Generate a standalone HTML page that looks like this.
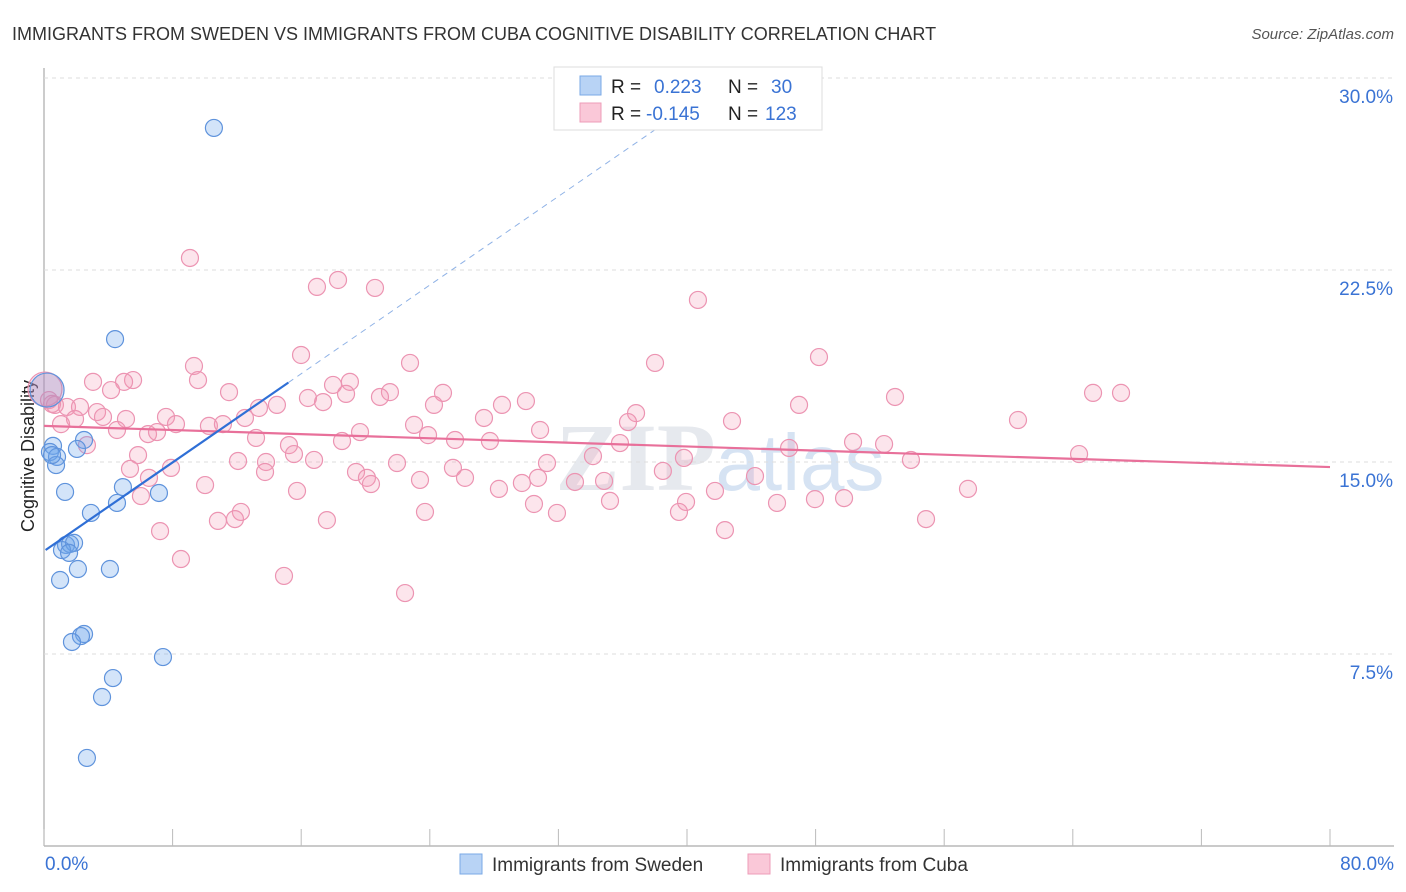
<!DOCTYPE html>
<html><head><meta charset="utf-8"><style>
body{margin:0;background:#fff;font-family:"Liberation Sans",sans-serif;}
svg{display:block}
</style></head><body>
<svg id="chart" width="1406" height="892">
<text x="12" y="40" font-size="18" fill="#333">IMMIGRANTS FROM SWEDEN VS IMMIGRANTS FROM CUBA COGNITIVE DISABILITY CORRELATION CHART</text>
<text x="1394" y="39" font-size="15" fill="#555" font-style="italic" text-anchor="end">Source: ZipAtlas.com</text>
<text x="720" y="490" font-size="96" fill="#e6e9ee" text-anchor="middle" font-weight="bold" font-family="Liberation Serif,serif">ZIP<tspan fill="#d6e3f3" font-family="Liberation Sans,sans-serif" font-weight="normal" font-size="80">atlas</tspan></text>
<text transform="translate(34,456) rotate(-90)" font-size="18" fill="#222" text-anchor="middle">Cognitive Disability</text>
<g id="grid"></g><g id="marks"></g>
<g>
<rect x="554" y="67" width="268" height="63" fill="#fff" stroke="#ddd"/>
<rect x="580" y="76" width="21" height="19" fill="#b8d3f5" stroke="#7aa8e6"/>
<rect x="580" y="103" width="21" height="19" fill="#fac8d8" stroke="#ee9cb8"/>
<text x="611" y="93" font-size="19" fill="#222">R = <tspan fill="#3a73d4" x="654">0.223</tspan><tspan x="728" fill="#222">N = </tspan><tspan x="771" fill="#3a73d4">30</tspan></text>
<text x="611" y="120" font-size="19" fill="#222">R = <tspan fill="#3a73d4" x="646">-0.145</tspan><tspan x="728" fill="#222">N = </tspan><tspan x="765" fill="#3a73d4">123</tspan></text>
</g>
<g>
<rect x="460" y="854" width="22" height="20" fill="#b8d3f5" stroke="#7aa8e6"/>
<text x="492" y="871" font-size="19" fill="#333">Immigrants from Sweden</text>
<rect x="748" y="854" width="22" height="20" fill="#fac8d8" stroke="#ee9cb8"/>
<text x="780" y="871" font-size="19" fill="#333">Immigrants from Cuba</text>
</g>
</svg>
<script>
const yTicks=[7.5,15,22.5,30];
const yTickLabels=["7.5%","15.0%","22.5%","30.0%"];
const xTickLabels=["0.0%","80.0%"];
const swedenX=[10.57,4.42,2.49,2.05,0.56,0.37,0.81,0.75,1.31,4.91,7.15,4.54,2.92,1.37,1.62,1.87,1.12,1.56,2.11,4.1,1.0,2.49,2.3,1.74,7.4,4.29,3.61,2.67,0.19,0.5];
const swedenY=[28.05,19.8,15.86,15.51,15.63,15.39,15.2,14.88,13.83,14.02,13.79,13.4,13.01,11.76,11.8,11.84,11.56,11.45,10.82,10.82,10.39,8.28,8.2,7.97,7.38,6.56,5.82,3.44,17.81,15.27];
const cubaX=[9.08,18.29,16.98,20.59,40.68,48.21,15.99,22.77,38.01,9.33,5.54,4.98,3.05,9.58,19.03,17.98,18.79,21.52,24.82,11.51,65.26,67.0,52.94,0.31,0.68,1.43,2.24,3.3,4.17,20.9,16.42,17.36,14.49,13.37,24.26,28.49,29.98,46.97,36.83,42.8,60.59,7.59,5.1,3.67,1.93,1.06,8.21,10.26,11.13,12.5,23.02,27.37,36.33,30.86,4.54,6.47,7.03,13.19,19.66,23.89,2.67,15.24,18.54,27.74,35.83,50.33,52.26,15.55,5.85,12.07,13.81,16.8,34.15,39.81,53.93,64.39,46.35,5.35,7.9,19.41,21.96,25.44,31.29,25.57,13.75,6.53,20.09,26.19,20.34,23.39,29.73,30.73,34.84,38.5,44.23,10.02,15.74,28.3,33.03,41.74,6.03,30.48,35.21,39.94,47.96,49.77,45.6,57.48,12.25,23.7,31.91,39.5,10.82,11.88,17.6,54.87,7.22,42.36,8.52,14.93,22.46,0.06,0.5];
const cubaY=[22.97,22.11,21.84,21.8,21.33,19.1,19.18,18.87,18.87,18.75,18.2,18.13,18.13,18.2,18.13,18.01,17.66,17.73,17.7,17.73,17.7,17.7,17.54,17.42,17.23,17.15,17.15,16.95,17.81,17.54,17.5,17.34,17.23,17.11,17.23,17.23,17.38,17.23,16.91,16.6,16.64,16.76,16.68,16.76,16.68,16.48,16.48,16.41,16.48,16.72,16.45,16.72,16.56,16.25,16.25,16.09,16.17,15.94,16.17,16.05,15.66,15.66,15.82,15.82,15.74,15.78,15.7,15.31,15.27,15.04,15.0,15.08,15.23,15.16,15.08,15.31,15.55,14.73,14.77,14.61,14.96,14.77,14.96,15.86,14.61,14.38,14.38,14.38,14.14,14.3,14.18,14.38,14.26,14.65,14.45,14.1,13.87,13.95,14.22,13.87,13.67,13.36,13.48,13.44,13.55,13.59,13.4,13.95,13.05,13.05,13.01,13.05,12.7,12.77,12.73,12.77,12.3,12.34,11.21,10.55,9.88,17.85,17.27];
const swedenTrend=[11.52,0.433];
const cubaTrend=[16.41,-0.0201];
const NS="http://www.w3.org/2000/svg";
const X0=44,X1=1330,Y0=846,Y30=78;
const sx=v=>X0+(X1-X0)*v/80;
const sy=v=>Y0-(Y0-Y30)*v/30;
function mk(tag,attrs,parent){const e=document.createElementNS(NS,tag);for(const k in attrs)e.setAttribute(k,attrs[k]);parent.appendChild(e);return e;}
const grid=document.getElementById('grid'),marks=document.getElementById('marks');
let ax=mk('line',{x1:X0,y1:68,x2:X0,y2:Y0,stroke:'#aaa','stroke-width':1.2},grid);


let bx=mk('line',{x1:X0,y1:Y0,x2:1394,y2:Y0,stroke:'#aaa','stroke-width':1.2},grid);


for(let i=0;i<=10;i++){const t=mk('line',{x1:sx(i*8),y1:Y0,x2:sx(i*8),y2:Y0-17,stroke:'#bbb'},grid);

}
yTicks.forEach((v,i)=>{const g=mk('line',{x1:X0,y1:sy(v),x2:1394,y2:sy(v),stroke:'#ddd','stroke-dasharray':'4,4'},grid);


const t=mk('text',{x:1393,y:sy(v)+25,'font-size':19,fill:'#3a73d4','text-anchor':'end'},grid);t.textContent=yTickLabels[i];

});
[[0,'start',45],[80,'end',1394]].forEach((a,i)=>{const t=mk('text',{x:a[2],y:870,'font-size':19,fill:'#3a73d4','text-anchor':a[1]},grid);t.textContent=xTickLabels[i];

});
cubaX.forEach((x,i)=>{const big=i===cubaX.length-2;const c=mk('circle',{cx:sx(x),cy:sy(cubaY[i]),r:big?17:8.5,fill:'rgba(244,150,180,0.25)',stroke:'#ec94b2','stroke-width':1.2},marks);

});
swedenX.forEach((x,i)=>{const big=i===28;const c=mk('circle',{cx:sx(x),cy:sy(swedenY[i]),r:big?17:8.5,fill:big?'rgba(150,140,200,0.35)':'rgba(110,165,235,0.3)',stroke:'#5f93dc','stroke-width':1.2},marks);

});
let cl=mk('line',{x1:sx(0),y1:sy(cubaTrend[0]),x2:sx(80),y2:sy(cubaTrend[0]+80*cubaTrend[1]),stroke:'#e8709a','stroke-width':2.2},marks);


let sl=mk('line',{x1:sx(0.1),y1:sy(swedenTrend[0]+0.1*swedenTrend[1]),x2:sx(15.2),y2:sy(swedenTrend[0]+15.2*swedenTrend[1]),stroke:'#2f6fd6','stroke-width':2.2},marks);


let sd=mk('line',{x1:sx(15.2),y1:sy(swedenTrend[0]+15.2*swedenTrend[1]),x2:sx(38),y2:sy(swedenTrend[0]+38*swedenTrend[1]),stroke:'#8fb2e6','stroke-width':1,'stroke-dasharray':'6,5'},marks);


</script>
</body></html>
